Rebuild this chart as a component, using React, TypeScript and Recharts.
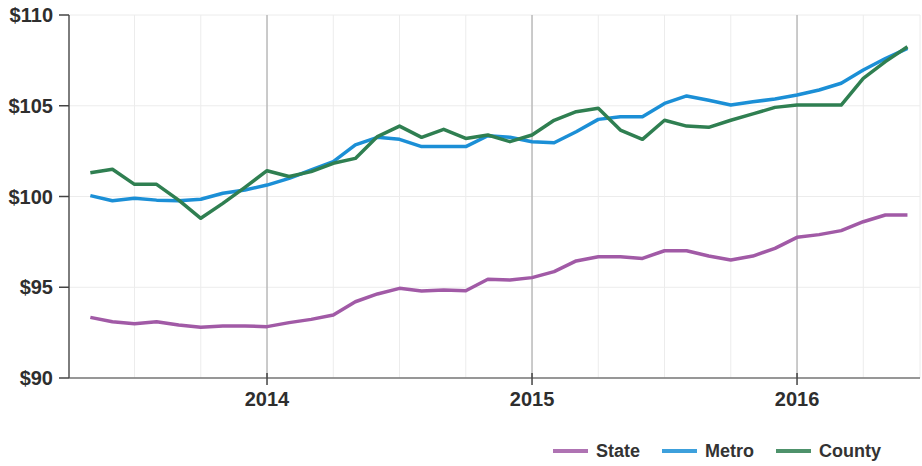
import React from "react";
import {
  LineChart,
  Line,
  XAxis,
  YAxis,
  CartesianGrid,
  ReferenceLine,
  Legend,
} from "recharts";

// Monthly observations, May 2013 – June 2016
const months = [
  "2013-05", "2013-06", "2013-07", "2013-08", "2013-09", "2013-10", "2013-11", "2013-12",
  "2014-01", "2014-02", "2014-03", "2014-04", "2014-05", "2014-06", "2014-07", "2014-08",
  "2014-09", "2014-10", "2014-11", "2014-12", "2015-01", "2015-02", "2015-03", "2015-04",
  "2015-05", "2015-06", "2015-07", "2015-08", "2015-09", "2015-10", "2015-11", "2015-12",
  "2016-01", "2016-02", "2016-03", "2016-04", "2016-05", "2016-06",
];

const stateValues = [
  93.34, 93.1, 92.99, 93.1, 92.92, 92.79, 92.87, 92.87,
  92.83, 93.05, 93.23, 93.47, 94.2, 94.63, 94.94, 94.79,
  94.85, 94.81, 95.44, 95.4, 95.53, 95.86, 96.45, 96.68,
  96.68, 96.59, 97.01, 97.01, 96.72, 96.5, 96.72, 97.14,
  97.75, 97.9, 98.12, 98.61, 98.98, 98.98,
];

const metroValues = [
  100.05, 99.77, 99.9, 99.8, 99.77, 99.85, 100.18, 100.36,
  100.63, 101.0, 101.46, 101.92, 102.84, 103.26, 103.15, 102.75,
  102.75, 102.75, 103.35, 103.26, 103.02, 102.96, 103.57, 104.25,
  104.4, 104.4, 105.13, 105.54, 105.3, 105.04, 105.22, 105.37,
  105.59, 105.87, 106.24, 106.97, 107.6, 108.16,
];

const countyValues = [
  101.31, 101.5, 100.67, 100.67, 99.8, 98.8, 99.62, 100.5,
  101.42, 101.1, 101.37, 101.83, 102.1, 103.3, 103.88, 103.26,
  103.7, 103.2, 103.39, 103.02, 103.39, 104.2, 104.67, 104.86,
  103.66, 103.15, 104.2, 103.88, 103.81, 104.2, 104.55, 104.91,
  105.04, 105.04, 105.04, 106.51, 107.43, 108.25,
];

const yTicks = [90, 95, 100, 105, 110];
const yearTicks = [2014, 2015, 2016];
const quarterTicks = [
  2013.5, 2013.75, 2014, 2014.25, 2014.5, 2014.75, 2015, 2015.25,
  2015.5, 2015.75, 2016, 2016.25,
];

const seriesInfo = [
  { key: "state", name: "State", color: "#a15aa6" },
  { key: "metro", name: "Metro", color: "#1b8fd6" },
  { key: "county", name: "County", color: "#2f7f51" },
];

const data = months.map((m, i) => {
  const [y, mo] = m.split("-").map(Number);
  return {
    t: y + (mo - 1) / 12,
    state: stateValues[i],
    metro: metroValues[i],
    county: countyValues[i],
  };
});

const FONT = "'Liberation Sans', Arial, sans-serif";

const XTick = (props: any) => {
  const { x, y, payload } = props;
  const v = payload.value;
  if (Math.abs(v - Math.round(v)) > 1e-6) return <g />;
  return (
    <g>
      <line x1={x} x2={x} y1={y - 5} y2={y + 7} stroke="#444" strokeWidth={1.5} />
      <text
        x={x}
        y={y + 28}
        textAnchor="middle"
        fill="#2e2e2e"
        fontSize={20}
        fontWeight={700}
        fontFamily={FONT}
      >
        {Math.round(v)}
      </text>
    </g>
  );
};

const LegendContent = () => (
  <div
    style={{
      height: 30,
      display: "flex",
      justifyContent: "flex-end",
      alignItems: "center",
      paddingRight: 39,
      fontFamily: FONT,
      fontWeight: 700,
      fontSize: 18,
      color: "#333",
    }}
  >
    {seriesInfo.map((s, i) => (
      <div
        key={s.key}
        style={{ display: "flex", alignItems: "center", marginLeft: i === 0 ? 0 : 22 }}
      >
        <div style={{ width: 35, height: 4, background: s.color, marginRight: 8, opacity: 0.85 }} />
        <span>{s.name}</span>
      </div>
    ))}
  </div>
);

export default function App() {
  return (
    <div style={{ position: "absolute", left: 0, top: 0, width: 922, height: 466, background: "#fff" }}>
      <LineChart
        width={922}
        height={466}
        data={data}
        margin={{ top: 15, right: 2, left: 0, bottom: 0 }}
      >
        <CartesianGrid stroke="#ececec" strokeWidth={1} />
        <XAxis
          dataKey="t"
          type="number"
          domain={[2013.2528, 2016.464]}
          ticks={quarterTicks}
          interval={0}
          allowDataOverflow
          tick={<XTick />}
          tickLine={false}
          tickSize={0}
          tickMargin={0}
          height={58}
          axisLine={{ stroke: "#777", strokeWidth: 1.5 }}
        />
        <YAxis
          type="number"
          domain={[90, 110]}
          ticks={yTicks}
          width={69}
          tickSize={10}
          tickMargin={6}
          tickLine={{ stroke: "#444", strokeWidth: 1.5 }}
          axisLine={{ stroke: "#555", strokeWidth: 1.5 }}
          tickFormatter={(v: number) => "$" + v}
          tick={{ fill: "#2e2e2e", fontSize: 20, fontWeight: 700, fontFamily: FONT }}
        />
        {yearTicks.map((yr) => (
          <ReferenceLine key={yr} x={yr} stroke="#b3b3b3" strokeWidth={1.3} />
        ))}
        <Legend verticalAlign="bottom" height={30} content={<LegendContent />} />
        {seriesInfo.map((s) => (
          <Line
            key={s.key}
            type="linear"
            dataKey={s.key}
            name={s.name}
            stroke={s.color}
            strokeWidth={3.5}
            strokeLinejoin="round"
            dot={false}
            isAnimationActive={false}
          />
        ))}
      </LineChart>
    </div>
  );
}
